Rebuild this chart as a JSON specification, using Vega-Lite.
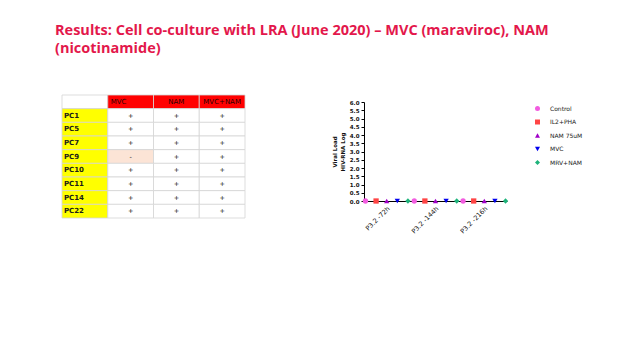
{
  "$schema": "https://vega.github.io/schema/vega-lite/v6.json",
  "background": "white",
  "padding": {"left": 55, "top": 23, "right": 5, "bottom": 5},
  "config": {"view": {"stroke": null}, "font": "DejaVu Sans"},
  "title": {
    "text": ["Results: Cell co-culture with LRA (June 2020) – MVC (maraviroc), NAM", "(nicotinamide)"],
    "anchor": "start",
    "frame": "bounds",
    "font": "Open Sans",
    "fontSize": 14.5,
    "fontWeight": "bold",
    "color": "#E3174B",
    "lineHeight": 18,
    "offset": 38
  },
  "hconcat": [
    {
      "width": 183,
      "height": 123,
      "data": {"values": [
        {"row": "H", "col": "L", "txt": "", "kind": "corner"},
        {"row": "H", "col": "MVC", "txt": "MVC", "kind": "head"},
        {"row": "H", "col": "NAM", "txt": "NAM", "kind": "head"},
        {"row": "H", "col": "MVC+NAM", "txt": "MVC+NAM", "kind": "head"},
        {"row": "PC1", "col": "L", "txt": "PC1", "kind": "label"},
        {"row": "PC1", "col": "MVC", "txt": "+", "kind": "pos"},
        {"row": "PC1", "col": "NAM", "txt": "+", "kind": "pos"},
        {"row": "PC1", "col": "MVC+NAM", "txt": "+", "kind": "pos"},
        {"row": "PC5", "col": "L", "txt": "PC5", "kind": "label"},
        {"row": "PC5", "col": "MVC", "txt": "+", "kind": "pos"},
        {"row": "PC5", "col": "NAM", "txt": "+", "kind": "pos"},
        {"row": "PC5", "col": "MVC+NAM", "txt": "+", "kind": "pos"},
        {"row": "PC7", "col": "L", "txt": "PC7", "kind": "label"},
        {"row": "PC7", "col": "MVC", "txt": "+", "kind": "pos"},
        {"row": "PC7", "col": "NAM", "txt": "+", "kind": "pos"},
        {"row": "PC7", "col": "MVC+NAM", "txt": "+", "kind": "pos"},
        {"row": "PC9", "col": "L", "txt": "PC9", "kind": "label"},
        {"row": "PC9", "col": "MVC", "txt": "-", "kind": "neg"},
        {"row": "PC9", "col": "NAM", "txt": "+", "kind": "pos"},
        {"row": "PC9", "col": "MVC+NAM", "txt": "+", "kind": "pos"},
        {"row": "PC10", "col": "L", "txt": "PC10", "kind": "label"},
        {"row": "PC10", "col": "MVC", "txt": "+", "kind": "pos"},
        {"row": "PC10", "col": "NAM", "txt": "+", "kind": "pos"},
        {"row": "PC10", "col": "MVC+NAM", "txt": "+", "kind": "pos"},
        {"row": "PC11", "col": "L", "txt": "PC11", "kind": "label"},
        {"row": "PC11", "col": "MVC", "txt": "+", "kind": "pos"},
        {"row": "PC11", "col": "NAM", "txt": "+", "kind": "pos"},
        {"row": "PC11", "col": "MVC+NAM", "txt": "+", "kind": "pos"},
        {"row": "PC14", "col": "L", "txt": "PC14", "kind": "label"},
        {"row": "PC14", "col": "MVC", "txt": "+", "kind": "pos"},
        {"row": "PC14", "col": "NAM", "txt": "+", "kind": "pos"},
        {"row": "PC14", "col": "MVC+NAM", "txt": "+", "kind": "pos"},
        {"row": "PC22", "col": "L", "txt": "PC22", "kind": "label"},
        {"row": "PC22", "col": "MVC", "txt": "+", "kind": "pos"},
        {"row": "PC22", "col": "NAM", "txt": "+", "kind": "pos"},
        {"row": "PC22", "col": "MVC+NAM", "txt": "+", "kind": "pos"}
      ]},
      "encoding": {
        "x": {"field": "col", "type": "nominal", "sort": ["L", "MVC", "NAM", "MVC+NAM"], "axis": null, "scale": {"type": "band", "paddingInner": 0, "paddingOuter": 0}},
        "y": {"field": "row", "type": "nominal", "sort": ["H", "PC1", "PC5", "PC7", "PC9", "PC10", "PC11", "PC14", "PC22"],
          "axis": {"title": null, "labels": false, "ticks": false, "domain": false, "minExtent": 7, "maxExtent": 7},
          "scale": {"type": "band", "paddingInner": 0, "paddingOuter": 0}}
      },
      "layer": [
        {
          "mark": {"type": "rect", "stroke": "#d4d4d4", "strokeWidth": 0.8, "width": {"expr": "bandwidth('concat_0_x')"}},
          "encoding": {
            "fill": {"field": "kind", "type": "nominal", "legend": null,
              "scale": {"domain": ["corner", "head", "label", "pos", "neg"], "range": ["#ffffff", "#ff0000", "#ffff00", "#ffffff", "#fce4d6"]}}
          }
        },
        {
          "transform": [{"filter": "datum.kind === 'label'"}],
          "mark": {"type": "text", "align": "left", "dx": -21, "fontSize": 7, "fontWeight": "bold", "fill": "#1a1a1a"},
          "encoding": {"text": {"field": "txt"}}
        },
        {
          "transform": [{"filter": "datum.kind === 'head' && datum.col === 'MVC'"}],
          "mark": {"type": "text", "align": "left", "dx": -20, "fontSize": 7, "fill": "#2a0000"},
          "encoding": {"text": {"field": "txt"}}
        },
        {
          "transform": [{"filter": "datum.kind === 'head' && datum.col !== 'MVC'"}],
          "mark": {"type": "text", "align": "center", "fontSize": 7, "fill": "#2a0000"},
          "encoding": {"text": {"field": "txt"}}
        },
        {
          "transform": [{"filter": "datum.kind === 'pos' || datum.kind === 'neg'"}],
          "mark": {"type": "text", "align": "center", "fontSize": 6.5, "fill": "#111111"},
          "encoding": {"text": {"field": "txt"}}
        }
      ]
    },
    {
      "width": 143,
      "height": 106,
      "data": {"values": [
        {"time": "P3.2 -72h", "group": "Control", "value": 0},
        {"time": "P3.2 -72h", "group": "IL2+PHA", "value": 0},
        {"time": "P3.2 -72h", "group": "NAM 75uM", "value": 0},
        {"time": "P3.2 -72h", "group": "MVC", "value": 0},
        {"time": "P3.2 -72h", "group": "MRV+NAM", "value": 0},
        {"time": "P3.2 -144h", "group": "Control", "value": 0},
        {"time": "P3.2 -144h", "group": "IL2+PHA", "value": 0},
        {"time": "P3.2 -144h", "group": "NAM 75uM", "value": 0},
        {"time": "P3.2 -144h", "group": "MVC", "value": 0},
        {"time": "P3.2 -144h", "group": "MRV+NAM", "value": 0},
        {"time": "P3.2 -216h", "group": "Control", "value": 0},
        {"time": "P3.2 -216h", "group": "IL2+PHA", "value": 0},
        {"time": "P3.2 -216h", "group": "NAM 75uM", "value": 0},
        {"time": "P3.2 -216h", "group": "MVC", "value": 0},
        {"time": "P3.2 -216h", "group": "MRV+NAM", "value": 0}
      ]},
      "mark": {"type": "point", "filled": true, "opacity": 1, "size": 28},
      "encoding": {
        "x": {"field": "time", "type": "nominal", "sort": ["P3.2 -72h", "P3.2 -144h", "P3.2 -216h"],
          "scale": {"paddingInner": 0.13, "paddingOuter": 0.03},
          "axis": {"title": null, "labelAngle": -45, "labelFontSize": 6.5, "labelColor": "#111111", "ticks": false, "domainColor": "#000000", "domainWidth": 1, "labelPadding": 4}},
        "xOffset": {"field": "group", "type": "nominal", "sort": ["Control", "IL2+PHA", "NAM 75uM", "MVC", "MRV+NAM"], "scale": {"paddingInner": 0, "paddingOuter": 0}},
        "y": {"field": "value", "type": "quantitative",
          "scale": {"domain": [0, 6], "range": [106, 7], "nice": false},
          "axis": {"title": ["Viral Load", "HIV-RNA Log"], "titleFontSize": 5.5, "titleFontWeight": "bold", "titleColor": "#111111", "titlePadding": 4,
            "values": [0, 0.5, 1, 1.5, 2, 2.5, 3, 3.5, 4, 4.5, 5, 5.5, 6], "format": ".1f", "labelFontSize": 5.5, "labelFontWeight": "bold", "labelColor": "#111111",
            "grid": false, "domainColor": "#000000", "domainWidth": 1, "tickColor": "#000000", "tickSize": 3, "labelPadding": 2}},
        "color": {"field": "group", "type": "nominal", "sort": ["Control", "IL2+PHA", "NAM 75uM", "MVC", "MRV+NAM"],
          "scale": {"domain": ["Control", "IL2+PHA", "NAM 75uM", "MVC", "MRV+NAM"], "range": ["#f25ce0", "#ff4444", "#a000c8", "#0000ee", "#1db37a"]},
          "legend": {"title": null, "orient": "none", "legendX": 472, "legendY": 10, "padding": 0, "labelFontSize": 6, "labelColor": "#222222", "symbolSize": 25, "rowPadding": 6.5, "labelOffset": 9}},
        "shape": {"field": "group", "type": "nominal",
          "scale": {"domain": ["Control", "IL2+PHA", "NAM 75uM", "MVC", "MRV+NAM"], "range": ["circle", "square", "triangle-up", "triangle-down", "diamond"]},
          "legend": {"title": null, "orient": "none", "legendX": 472, "legendY": 10, "padding": 0, "labelFontSize": 6, "labelColor": "#222222", "symbolSize": 25, "rowPadding": 6.5, "labelOffset": 9}}
      }
    }
  ],
  "spacing": 86
}
